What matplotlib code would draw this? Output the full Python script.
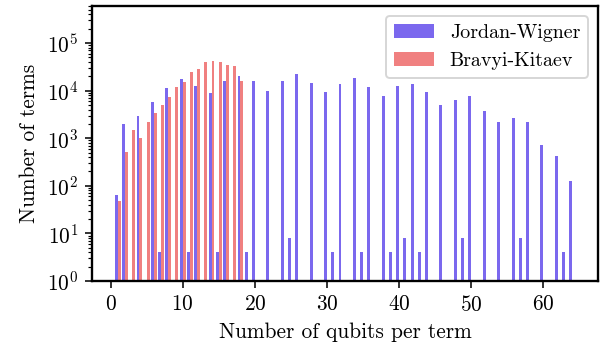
import numpy as np
import matplotlib.pyplot as plt

plt.rcParams['font.family'] = 'serif'
plt.rcParams['font.serif'] = ['cmr10', 'DejaVu Serif']
plt.rcParams['mathtext.fontset'] = 'cm'
plt.rcParams['axes.formatter.use_mathtext'] = True
plt.rcParams['font.size'] = 11
plt.rcParams['axes.linewidth'] = 1.2

# number of qubits per term
qubits = np.arange(1, 65)

# Jordan-Wigner term counts (0 = no terms)
jw = [64, 2000, 0, 2950, 0, 5800, 4, 11500, 0, 17700,
      4, 12600, 0, 9000, 4, 16000, 0, 20500, 4, 16000,
      0, 10000, 0, 16000, 8, 22600, 0, 14600, 0, 9400,
      4, 13900, 0, 18600, 4, 12000, 0, 7800, 4, 12600,
      8, 13900, 4, 9400, 0, 5000, 0, 6400, 8, 7800,
      0, 3800, 0, 2200, 0, 2700, 8, 2200, 0, 720,
      0, 425, 4, 127]

# Bravyi-Kitaev term counts
bk_qubits = np.arange(1, 19)
bk = [48, 515, 1500, 1020, 2200, 3400, 5000, 7400, 12000, 15200,
      25000, 29000, 40500, 42500, 40500, 35000, 33000, 16000]

jw = np.array(jw, dtype=float)
bk = np.array(bk, dtype=float)
jw_mask = jw > 0

fig = plt.figure(figsize=(600 / 140, 350 / 140), dpi=140)
ax = fig.add_axes([0.153, 0.197, 0.844, 0.786])

ax.bar(qubits[jw_mask] - 0.2, jw[jw_mask], width=0.4,
       color='#7B68EE', label='Jordan-Wigner', log=True)
ax.bar(bk_qubits + 0.2, bk, width=0.4,
       color='#F08080', label='Bravyi-Kitaev', log=True)

ax.set_yscale('log')
ax.set_ylim(1, 6e5)
ax.set_xlim(-2.6, 67.6)
ax.set_xticks([0, 10, 20, 30, 40, 50, 60])
ax.set_xlabel('Number of qubits per term')
ax.set_ylabel('Number of terms')
ax.legend(loc='upper right', fontsize=10.3)

fig.savefig('out.png', dpi=140)
